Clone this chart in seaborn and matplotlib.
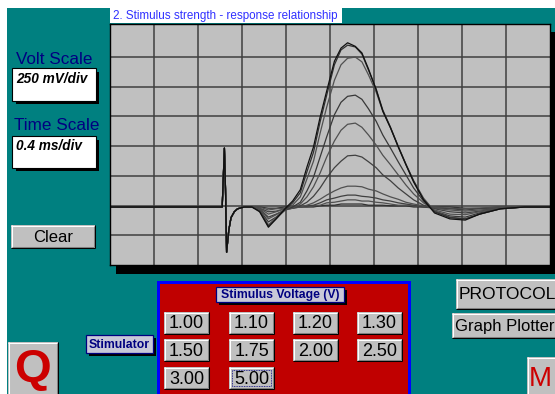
import numpy as np
import pandas as pd
import matplotlib
matplotlib.use("Agg")
import matplotlib.pyplot as plt
import seaborn as sns
from matplotlib.patches import Rectangle

# ---------------- data ----------------
title = "2. Stimulus strength - response relationship"
volt_scale = "250 mV/div"
time_scale = "0.4 ms/div"
mv_per_div = 250
ms_per_div = 0.4
stim_labels = ["1.00", "1.10", "1.20", "1.30", "1.50", "1.75", "2.00", "2.50", "3.00", "5.00"]
button_rows = [["1.00", "1.10", "1.20", "1.30"], ["1.50", "1.75", "2.00", "2.50"], ["3.00", "5.00"]]

# stimulus artifact (common to all sweeps)
artifact_t = [0.00, 0.82, 1.02, 1.04, 1.05, 1.06, 1.08, 1.10, 1.13, 1.16, 1.22]
artifact_mv = [0, 0, 0, 495, 150, -380, -195, -90, -40, -15, 0]

# compound action potential part (ms)
response_t = [1.29, 1.36, 1.44, 1.51, 1.59, 1.66, 1.73, 1.79, 1.85, 1.91, 1.97, 2.04, 2.10, 2.16,
              2.23, 2.29, 2.35, 2.42, 2.48, 2.55, 2.62, 2.69, 2.76, 2.85, 2.95, 3.09, 3.23, 3.36,
              3.55, 3.77, 4.00]
resp_100 = [0, 0, -10, -10, 0, 0, 0, 0, 0, 10, 15, 15, 25, 25, 25, 25, 15, 15, 15, 10, 10, 10, 0, 0,
            0, 0, -10, -10, 0, 0, 0]
resp_110 = [0, 0, -25, -15, -10, 0, 0, 0, 10, 15, 35, 40, 50, 60, 60, 50, 50, 40, 35, 25, 15, 15, 10,
            0, 0, -10, -15, -10, 0, 0, 0]
resp_120 = [0, -10, -40, -35, -15, -10, 0, 10, 15, 35, 60, 75, 90, 100, 100, 90, 85, 75, 60, 50, 35,
            25, 15, 0, -10, -15, -25, -15, -10, 0, 0]
resp_130 = [0, -10, -60, -40, -15, -10, 0, 15, 35, 65, 100, 135, 160, 175, 175, 170, 150, 135, 110,
            85, 65, 40, 25, 10, -10, -25, -35, -25, -10, 0, 0]
resp_150 = [0, -15, -85, -60, -25, -10, 10, 40, 90, 160, 245, 330, 385, 430, 435, 420, 380, 330, 270,
            220, 160, 110, 60, 15, -15, -40, -50, -35, -10, 0, 0]
resp_175 = [0, -15, -100, -65, -25, -10, 25, 85, 170, 285, 420, 555, 645, 695, 705, 670, 605, 520,
            435, 355, 270, 185, 110, 35, -25, -60, -65, -40, -10, 0, 0]
resp_200 = [0, -25, -125, -85, -25, 0, 40, 135, 250, 420, 590, 775, 880, 930, 940, 905, 825, 720,
            605, 495, 380, 270, 160, 50, -35, -75, -85, -50, -15, 0, 0]
resp_250 = [0, -25, -150, -90, -25, 15, 85, 235, 385, 620, 840, 1065, 1195, 1250, 1260, 1220, 1110,
            965, 805, 665, 510, 360, 220, 75, -35, -85, -100, -60, -15, 0, 0]
resp_300 = [0, -35, -160, -100, -25, 35, 120, 295, 460, 715, 940, 1195, 1320, 1360, 1345, 1285, 1150,
            990, 815, 670, 510, 360, 220, 65, -40, -90, -100, -60, -15, 0, 0]
resp_500 = [0, -40, -170, -100, -15, 50, 145, 335, 505, 755, 975, 1225, 1335, 1380, 1350, 1295, 1160,
            985, 805, 665, 505, 355, 210, 60, -50, -100, -110, -60, -15, 0, 0]
responses = [resp_100, resp_110, resp_120, resp_130, resp_150, resp_175, resp_200, resp_250,
             resp_300, resp_500]

rows = []
for lab, resp in zip(stim_labels, responses):
    for t, v in zip(artifact_t + response_t, artifact_mv + resp):
        rows.append((lab, t, v))
df = pd.DataFrame(rows, columns=["stim", "time_ms", "mV"])

# ---------------- figure ----------------
W, H = 555, 394
fig = plt.figure(figsize=(W / 100, H / 100), dpi=100)
fig.patch.set_facecolor("#008080")

bg = fig.add_axes([0, 0, 1, 1], zorder=0)
bg.set_xlim(0, W)
bg.set_ylim(H, 0)
bg.axis("off")

GRAY = "#c0c0c0"
NAVY = "#000080"
FONT = "Liberation Sans"


def rect(x0, y0, x1, y1, fc, ec="none", lw=0, z=1):
    bg.add_patch(Rectangle((x0, y0), x1 - x0, y1 - y0, facecolor=fc, edgecolor=ec, linewidth=lw, zorder=z))


def hline(x0, x1, y, c, z=3):
    bg.plot([x0, x1], [y, y], color=c, lw=0.75, solid_capstyle="butt", zorder=z)


def vline(x, y0, y1, c, z=3):
    bg.plot([x, x], [y0, y1], color=c, lw=0.75, solid_capstyle="butt", zorder=z)


def bevel(x0, y0, x1, y1):
    rect(x0, y0, x1, y1, GRAY, z=2)
    hline(x0, x1, y0 + 0.5, "white")
    vline(x0 + 0.5, y0, y1, "white")
    hline(x0, x1, y1 - 0.5, "black")
    vline(x1 - 0.5, y0, y1, "black")
    hline(x0 + 1, x1 - 1, y1 - 1.5, "#808080")
    vline(x1 - 1.5, y0 + 1, y1 - 1, "#808080")


def button(x0, y0, x1, y1, text, fs=10.5, color="black", weight="normal", tx=None, focus=False, dy=0.5):
    bevel(x0, y0, x1, y1)
    if tx is None:
        bg.text((x0 + x1) / 2, (y0 + y1) / 2 + dy, text, ha="center", va="center", fontsize=fs,
                color=color, fontweight=weight, family=FONT, zorder=4)
    else:
        bg.text(tx, (y0 + y1) / 2 + dy, text, ha="left", va="center", fontsize=fs,
                color=color, fontweight=weight, family=FONT, zorder=4)
    if focus:
        bg.add_patch(Rectangle((x0 + 3, y0 + 3), x1 - x0 - 6, y1 - y0 - 6, facecolor="none",
                               edgecolor="#000080", lw=0.6, linestyle=(0, (1, 1)), zorder=4))


def label(x0, y0, x1, y1, text, fs=8.5):
    rect(x0 + 3, y0 + 3, x1 + 3, y1 + 3, "black", z=2)
    rect(x0, y0, x1, y1, "#c8c8d8", ec=NAVY, lw=0.9, z=3)
    bg.text((x0 + x1) / 2, (y0 + y1) / 2 + 0.5, text, ha="center", va="center", fontsize=fs,
            color=NAVY, fontweight="bold", family=FONT, zorder=4)


# white margins
rect(0, 0, W, 8, "white")
rect(0, 0, 7, H, "white")

# title tab
rect(110, 8, 342, 23, "white")
bg.text(113, 16, title, ha="left", va="center", fontsize=8.4, color="#3030ff", family=FONT, zorder=4)

# plot shadow
rect(116, 32, W, 274, "black")

# scale panels
bg.text(16, 59, "Volt Scale", ha="left", va="center", fontsize=12.3, color=NAVY, family=FONT)
rect(16, 72, 99, 104, "black")
rect(12, 68, 96, 101, "white", ec="black", lw=0.8, z=2)
bg.text(16, 79, volt_scale, ha="left", va="center", fontsize=9.8, fontweight="bold",
        style="italic", family=FONT, zorder=4)
bg.text(14, 125, "Time Scale", ha="left", va="center", fontsize=12.3, color=NAVY, family=FONT)
rect(16, 140, 99, 171, "black")
rect(12, 136, 96, 168, "white", ec="black", lw=0.8, z=2)
bg.text(16, 146, time_scale, ha="left", va="center", fontsize=9.8, fontweight="bold",
        style="italic", family=FONT, zorder=4)

button(11, 225, 95, 248, "Clear", fs=12)

# stimulator panel
rect(157, 281, 411, H + 2, "#0000ff", z=1)
rect(160, 284, 408, H + 2, "#c00000", z=1.5)
label(216, 287, 344, 302, "Stimulus Voltage (V)", fs=8.8)
label(86, 335, 153, 353, "Stimulator", fs=8.8)
col_x = [164, 229, 293, 357]
row_y = [312, 339, 367]
for r, row in enumerate(button_rows):
    for c, lab in enumerate(row):
        button(col_x[c], row_y[r], col_x[c] + 45, row_y[r] + 22, lab, fs=13,
               focus=(lab == "5.00"), dy=1)

# Q / M buttons
bevel(8, 342, 58, H + 2)
bg.text(33, 382, "Q", ha="center", va="baseline", fontsize=34, color="#cc0000",
        fontweight="bold", family=FONT, zorder=4)
bevel(527, 357, W + 3, H + 2)
bg.text(529, 386, "M", ha="left", va="baseline", fontsize=20, color="#cc0000",
        family=FONT, zorder=4)

button(456, 279, W + 3, 309, "PROTOCOL", fs=12.6, tx=459)
button(452, 313, W + 3, 338, "Graph Plotter", fs=12, tx=455)

# ---------------- scope axes ----------------
x0, x1, y0, y1 = 110, 550, 24, 265
ax = fig.add_axes([x0 / W, 1 - y1 / H, (x1 - x0) / W, (y1 - y0) / H], zorder=5)
ax.set_facecolor(GRAY)
px_per_div = 29.75
baseline_px = 207
mv_per_px = mv_per_div / px_per_div
ax.set_xlim(0, 10 * ms_per_div)
ax.set_ylim(-(y1 - baseline_px) * mv_per_px, (baseline_px - y0) * mv_per_px)

ax.set_xticks([ms_per_div * k for k in range(1, 10)])
ax.set_yticks([-(y1 - px_per_div * k - baseline_px) * mv_per_px for k in range(1, 8)])
ax.grid(True, color="#404040", lw=1.1)
ax.set_axisbelow(True)
ax.tick_params(left=False, bottom=False, labelleft=False, labelbottom=False)
for s in ax.spines.values():
    s.set_color("black")
    s.set_linewidth(1.0)

palette = ["#303030", "#505050", "#404040", "#505050", "#404040", "#505050", "#383838",
           "#505050", "#303030", "#101010"]
sns.lineplot(data=df, x="time_ms", y="mV", hue="stim", hue_order=stim_labels, palette=palette,
             estimator=None, sort=False, legend=False, lw=0.9, ax=ax)
ax.set_xlabel("")
ax.set_ylabel("")

fig.savefig("out.png", dpi=100, facecolor=fig.get_facecolor())
